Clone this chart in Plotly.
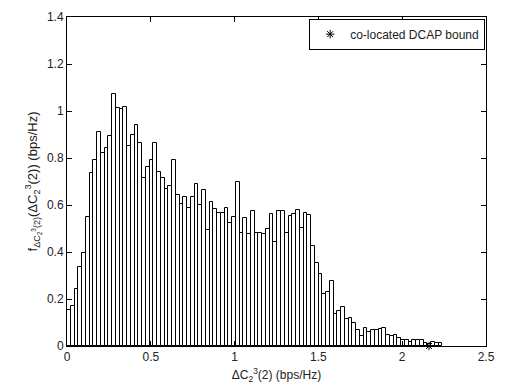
import plotly.graph_objects as go

# Histogram data (MATLAB-style, 100 bins)
bin_start = 0.0
bin_width = 0.0224
heights = [
    0.153, 0.169, 0.243, 0.338, 0.394, 0.551, 0.735, 0.790, 0.912, 0.822,
    0.844, 0.893, 1.074, 1.013, 1.008, 1.017, 0.849, 0.896, 0.939, 0.864,
    0.713, 0.760, 0.790, 0.864, 0.740, 0.713, 0.667, 0.679, 0.793, 0.642,
    0.604, 0.633, 0.586, 0.633, 0.688, 0.601, 0.663, 0.493, 0.614, 0.583,
    0.567, 0.567, 0.588, 0.522, 0.551, 0.696, 0.483, 0.543, 0.475, 0.576,
    0.483, 0.483, 0.475, 0.497, 0.563, 0.443, 0.576, 0.576, 0.480, 0.554,
    0.563, 0.580, 0.501, 0.568, 0.557, 0.424, 0.354, 0.308, 0.222, 0.231,
    0.276, 0.135, 0.151, 0.165, 0.114, 0.118, 0.096, 0.067, 0.044, 0.076,
    0.061, 0.069, 0.069, 0.072, 0.078, 0.047, 0.044, 0.047, 0.036, 0.026,
    0.026, 0.019, 0.024, 0.024, 0.025, 0.014, 0.007, 0.017, 0.013, 0.013,
]
bound_x = [2.16]
bound_y = [0.0]
legend_name = "co-located DCAP bound"
x_ticks = [0, 0.5, 1, 1.5, 2, 2.5]
x_tick_text = ["0", "0.5", "1", "1.5", "2", "2.5"]
y_ticks = [0, 0.2, 0.4, 0.6, 0.8, 1.0, 1.2, 1.4]
y_tick_text = ["0", "0.2", "0.4", "0.6", "0.8", "1", "1.2", "1.4"]

centers = [bin_start + (i + 0.5) * bin_width for i in range(len(heights))]

FONT = "Liberation Sans, Arial, sans-serif"

fig = go.Figure()
fig.add_trace(go.Bar(
    x=centers, y=heights, width=bin_width,
    marker=dict(color="white", line=dict(color="black", width=1)),
    showlegend=False, hoverinfo="skip",
))
fig.add_trace(go.Scatter(
    x=bound_x, y=bound_y, mode="markers", name=legend_name,
    marker=dict(symbol="asterisk-open", size=7, color="black",
                line=dict(color="black", width=1)),
    cliponaxis=False,
))

axis_common = dict(
    showline=True, linecolor="black", linewidth=1, mirror="ticks",
    ticks="inside", ticklen=5, tickcolor="black", showgrid=False,
    zeroline=False, tickfont=dict(family=FONT, size=12, color="#222"),
)
fig.update_xaxes(range=[0, 2.5], tickvals=x_ticks, ticktext=x_tick_text,
                 title=dict(text="ΔC<sub>2</sub><sup>3</sup>(2) (bps/Hz)",
                            font=dict(family=FONT, size=12, color="#222"),
                            standoff=7),
                 **axis_common)
fig.update_yaxes(range=[0, 1.4], tickvals=y_ticks, ticktext=y_tick_text,
                 title=dict(text="f<sub>ΔC<sub>2</sub><sup>3</sup>(2)</sub>(ΔC<sub>2</sub><sup>3</sup>(2)) (bps/Hz)",
                            font=dict(family=FONT, size=13, color="#222"),
                            standoff=6),
                 **axis_common)

fig.update_layout(
    width=505, height=390,
    margin=dict(l=67, r=10, t=11, b=43),
    plot_bgcolor="white", paper_bgcolor="white",
    bargap=0,
    legend=dict(x=0.998, y=0.995, xanchor="right", yanchor="top",
                bordercolor="black", borderwidth=1, bgcolor="white",
                font=dict(family=FONT, size=12, color="#222"),
                entrywidth=150, tracegroupgap=0),
)

fig.write_html("out.html")
